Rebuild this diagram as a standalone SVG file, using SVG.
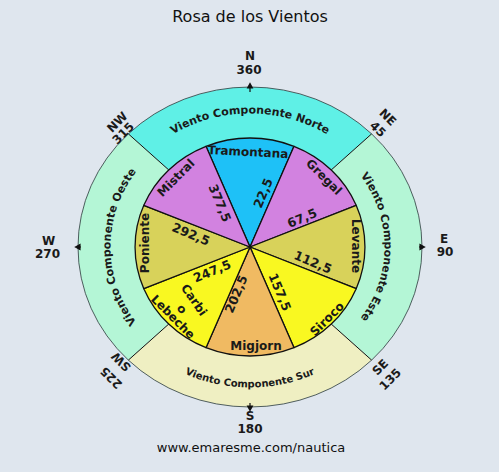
<svg xmlns="http://www.w3.org/2000/svg" width="499" height="472" viewBox="0 0 499 472">
<defs>
<style>
.bg{fill:#dfe6ee}
.title{font-family:"DejaVu Sans",Verdana,sans-serif;font-size:16px;fill:#111;text-anchor:middle}
.foot{font-family:"DejaVu Sans",Verdana,sans-serif;font-size:13px;fill:#111;text-anchor:middle}
.cmp{font-family:"DejaVu Sans",Verdana,sans-serif;font-weight:bold;font-size:12px;fill:#1a1a1a;text-anchor:middle}
.band{font-family:"DejaVu Sans",Verdana,sans-serif;font-weight:bold;font-size:11px;fill:#1a1a1a;text-anchor:middle}
.sur{font-size:10px}
.nm{font-family:"DejaVu Sans",Verdana,sans-serif;font-weight:bold;font-size:12px;fill:#1a1a1a;text-anchor:middle}
.num{font-family:"DejaVu Sans",Verdana,sans-serif;font-weight:bold;font-size:12.5px;fill:#1a1a1a;text-anchor:middle}
.sec{stroke:#111;stroke-width:1.3;stroke-linejoin:round}
.div{stroke:#111;stroke-width:1;fill:none}
.tick{stroke:#111;stroke-width:1.2;fill:#111}
</style>
<path id="pN" d="M106.5,247 A143.5,133.5 0 0 1 393.5,247"/>
<path id="pE" d="M250,122 A134.5,125 0 0 1 250,372"/>
<path id="pO" d="M250,377 A139.5,130 0 0 1 250,117"/>
<path id="pS" d="M99,247 A151,140.5 0 0 0 401,247"/>
</defs>
<rect class="bg" x="0" y="0" width="499" height="472"/>
<text class="title" x="250" y="22">Rosa de los Vientos</text>

<g id="bands">
<path id="band-norte" fill="#5ff0e6" d="M128.4,133.9 A172,160 0 0 1 371.6,133.9 L331.3,169.9 A115,109 0 0 0 168.7,169.9 Z"/>
<path id="band-este" fill="#b4f6d6" d="M371.6,133.9 A172,160 0 0 1 371.6,360.1 L331.3,324.1 A115,109 0 0 0 331.3,169.9 Z"/>
<path id="band-sur" fill="#efefc2" d="M371.6,360.1 A172,160 0 0 1 128.4,360.1 L168.7,324.1 A115,109 0 0 0 331.3,324.1 Z"/>
<path id="band-oeste" fill="#b4f6d6" d="M128.4,360.1 A172,160 0 0 1 128.4,133.9 L168.7,169.9 A115,109 0 0 0 168.7,324.1 Z"/>
<ellipse cx="250" cy="247" rx="172" ry="160" fill="none" stroke="#2a3a3a" stroke-width="0.8"/>
</g>

<g id="pie">
<path id="tramontana" class="sec" fill="#1ec1f7" d="M250,247 L206,146.3 A115,109 0 0 1 294,146.3 Z"/>
<path id="gregal" class="sec" fill="#d282e0" d="M250,247 L294,146.3 A115,109 0 0 1 356.2,205.3 Z"/>
<path id="levante" class="sec" fill="#d8d25a" d="M250,247 L356.2,205.3 A115,109 0 0 1 356.2,288.7 Z"/>
<path id="siroco" class="sec" fill="#f9f821" d="M250,247 L356.2,288.7 A115,109 0 0 1 294,347.7 Z"/>
<path id="migjorn" class="sec" fill="#f0ba62" d="M250,247 L294,347.7 A115,109 0 0 1 206,347.7 Z"/>
<path id="lebeche" class="sec" fill="#f9f821" d="M250,247 L206,347.7 A115,109 0 0 1 143.8,288.7 Z"/>
<path id="poniente" class="sec" fill="#d8d25a" d="M250,247 L143.8,288.7 A115,109 0 0 1 143.8,205.3 Z"/>
<path id="mistral" class="sec" fill="#d282e0" d="M250,247 L143.8,205.3 A115,109 0 0 1 206,146.3 Z"/>
</g>

<g id="connectors">
<path class="div" d="M331.3,169.9 L371.6,133.9 M331.3,324.1 L371.6,360.1 M168.7,324.1 L128.4,360.1 M168.7,169.9 L128.4,133.9"/>
<path class="tick" d="M250,92 V87 M419,247 H423 M81,247 H77 M250,403 V407"/>
<path class="tick" stroke-width="0.5" d="M250,83.5 L247.6,88 L252.4,88 Z M424.5,247 L420,244.6 L420,249.4 Z M75.5,247 L80,244.6 L80,249.4 Z M250,410.5 L247.6,406 L252.4,406 Z"/>
</g>

<g id="band-labels">
<text class="band"><textPath href="#pN" startOffset="50%">Viento Componente Norte</textPath></text>
<text class="band"><textPath href="#pE" startOffset="50%">Viento Componente Este</textPath></text>
<text class="band"><textPath href="#pO" startOffset="50%">Viento Componente Oeste</textPath></text>
<text class="band sur"><textPath href="#pS" startOffset="50%">Viento Componente Sur</textPath></text>
</g>

<g id="compass">
<g id="c-n"><text class="cmp" x="250" y="60">N</text><text class="cmp" x="249" y="74">360</text></g>
<g id="c-e"><text class="cmp" x="444" y="243">E</text><text class="cmp" x="445" y="256">90</text></g>
<g id="c-s"><text class="cmp" x="250" y="420">S</text><text class="cmp" x="250" y="433">180</text></g>
<g id="c-w"><text class="cmp" x="48.5" y="245">W</text><text class="cmp" x="47.5" y="258">270</text></g>
<g id="c-ne"><text class="cmp" transform="translate(388,117) rotate(45)" y="4.4">NE</text><text class="cmp" transform="translate(378,129) rotate(45)" y="4.4">45</text></g>
<g id="c-nw"><text class="cmp" transform="translate(117,122) rotate(-45)" y="4.4">NW</text><text class="cmp" transform="translate(123,133) rotate(-45)" y="4.4">315</text></g>
<g id="c-se"><text class="cmp" transform="translate(380,367) rotate(-45)" y="4.4">SE</text><text class="cmp" transform="translate(390,379) rotate(-45)" y="4.4">135</text></g>
<g id="c-sw"><text class="cmp" transform="translate(121,362) rotate(225)" y="4.4">SW</text><text class="cmp" transform="translate(111,378) rotate(225)" y="4.4">225</text></g>
</g>

<g id="names">
<text class="nm" transform="translate(248,152) rotate(3)" y="4">Tramontana</text>
<text class="nm" transform="translate(324,177) rotate(45)" y="4">Gregal</text>
<text class="nm" transform="translate(356,246) rotate(90)" y="4">Levante</text>
<text class="nm" transform="translate(327,319) rotate(-45)" y="4">Siroco</text>
<text class="nm" transform="translate(256,346)" y="4">Migjorn</text>
<text class="nm" transform="translate(173,317) rotate(45)" y="4">Lebeche</text>
<text class="nm" transform="translate(194,300) rotate(55)" y="4">Carbi</text>
<text class="nm" transform="translate(182,309) rotate(55)" y="4">o</text>
<text class="nm" transform="translate(145,243) rotate(-90)" y="4">Poniente</text>
<text class="nm" transform="translate(176,178) rotate(-45)" y="4">Mistral</text>
</g>

<g id="numbers">
<text class="num" transform="translate(263,193) rotate(-67.5)" y="4.5">22,5</text>
<text class="num" transform="translate(302,218) rotate(-22.5)" y="4.5">67,5</text>
<text class="num" transform="translate(313,262) rotate(22.5)" y="4.5">112,5</text>
<text class="num" transform="translate(280,292) rotate(67.5)" y="4.5">157,5</text>
<text class="num" transform="translate(236,294) rotate(-67.5)" y="4.5">202,5</text>
<text class="num" transform="translate(212,271) rotate(-22.5)" y="4.5">247,5</text>
<text class="num" transform="translate(191,234) rotate(22.5)" y="4.5">292,5</text>
<text class="num" transform="translate(220,203) rotate(67.5)" y="4.5">377,5</text>
</g>

<text class="foot" x="251" y="452">www.emaresme.com/nautica</text>
</svg>
